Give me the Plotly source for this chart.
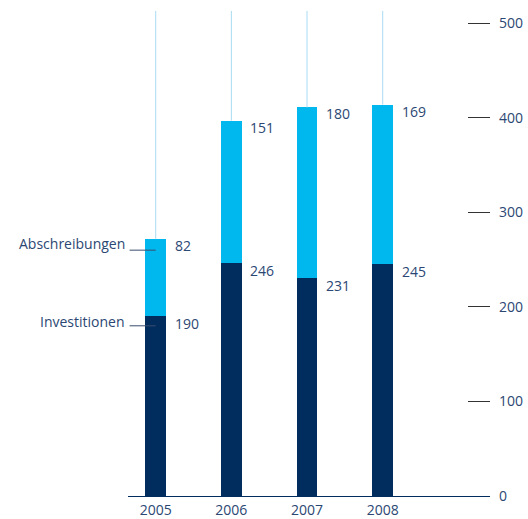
import plotly.graph_objects as go

# Investment and depreciation per year (in EUR m)
years = ["2005", "2006", "2007", "2008"]
investitionen = [190, 246, 231, 245]
abschreibungen = [82, 151, 180, 169]
y_ticks = [0, 100, 200, 300, 400, 500]

NAVY = "#002d5e"
CYAN = "#00b8ee"
GUIDE = "#a9dcf3"
TEXT = "#2b4773"
FONT = "Open Sans"
GUIDE_TOP = 513

totals = [i + a for i, a in zip(investitionen, abschreibungen)]
idx = list(range(len(years)))

fig = go.Figure()

# thin guide lines rising from each bar top
gx, gy = [], []
for k, t in zip(idx, totals):
    gx += [k, k, None]
    gy += [t, GUIDE_TOP, None]
fig.add_trace(go.Scatter(x=gx, y=gy, mode="lines",
                         line=dict(color=GUIDE, width=1),
                         hoverinfo="skip", showlegend=False))

fig.add_trace(go.Bar(x=idx, y=investitionen, name="Investitionen",
                     marker=dict(color=NAVY, line=dict(width=0)),
                     width=0.274, showlegend=False))
fig.add_trace(go.Bar(x=idx, y=abschreibungen, name="Abschreibungen",
                     marker=dict(color=CYAN, line=dict(width=0)),
                     width=0.274, showlegend=False))

# value labels beside each segment
for k in idx:
    fig.add_annotation(x=k, y=investitionen[k], text=str(investitionen[k]),
                       xanchor="left", yanchor="top", xshift=17, yshift=4,
                       showarrow=False, font=dict(family=FONT, size=14, color=TEXT))
    fig.add_annotation(x=k, y=totals[k], text=str(abschreibungen[k]),
                       xanchor="left", yanchor="top", xshift=17, yshift=5,
                       showarrow=False, font=dict(family=FONT, size=14, color=TEXT))

# series names with short leader lines pointing at the first bar
for name, yv, shift in [("Abschreibungen", totals[0] - 12, 7),
                        ("Investitionen", investitionen[0] - 10, 4)]:
    fig.add_shape(type="line", xref="x", yref="y",
                  x0=-0.345, x1=0, y0=yv, y1=yv,
                  line=dict(color="#3a4d6e", width=1))
    fig.add_annotation(x=-0.345, y=yv, text=name, xanchor="right", yanchor="middle",
                       xshift=-3, yshift=shift, showarrow=False,
                       font=dict(family=FONT, size=14, color=TEXT))

fig.update_layout(
    width=528, height=519,
    margin=dict(l=0, r=0, t=0, b=23, autoexpand=False),
    paper_bgcolor="white", plot_bgcolor="white",
    barmode="stack", bargap=0,
    showlegend=False,
    xaxis=dict(
        domain=[128 / 528, 490 / 528],
        range=[-0.366, 4.418],
        tickmode="array", tickvals=idx, ticktext=years,
        showgrid=False, zeroline=False,
        showline=True, linecolor=NAVY, linewidth=1,
        ticks="", ticklabelstandoff=1,
        tickfont=dict(family=FONT, size=14, color=TEXT),
        automargin=False,
    ),
    yaxis=dict(
        anchor="free", position=490 / 528, side="right",
        range=[0, 524.6],
        tickmode="array", tickvals=y_ticks,
        ticks="inside", ticklen=22, tickcolor="#333333", tickwidth=1,
        showgrid=False, zeroline=False, showline=False,
        ticklabelstandoff=8,
        tickfont=dict(family=FONT, size=14, color=TEXT),
        automargin=False,
    ),
)

fig.write_html("out.html")
